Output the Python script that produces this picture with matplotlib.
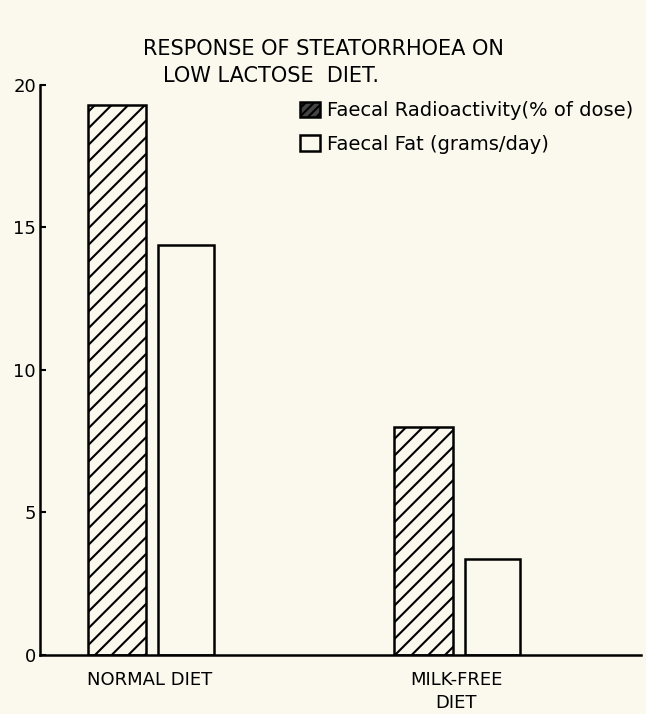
import matplotlib
matplotlib.use('Agg')
import matplotlib.pyplot as plt
from matplotlib.patches import Patch
import numpy as np

groups = ['NORMAL DIET', 'MILK-FREE\nDIET']
radioactivity = [19.3, 8.0]   # Faecal Radioactivity (% of dose)
fat = [14.4, 3.35]            # Faecal Fat (grams/day)
yticks = [0, 5, 10, 15, 20]

bg = '#fbf9ee'
plt.rcParams['hatch.linewidth'] = 1.5
plt.rcParams['font.family'] = 'DejaVu Sans'

fig = plt.figure(figsize=(6.46, 7.14), dpi=100, facecolor=bg)
ax = fig.add_axes([0.062, 0.083, 0.93, 0.798], facecolor=bg)

centers = np.array([1.83, 6.93])
ax.bar(centers - 0.55, radioactivity, width=0.98, color=bg, edgecolor='black',
       hatch='//', linewidth=1.8)
ax.bar(centers + 0.6, fat, width=0.92, color=bg, edgecolor='black',
       linewidth=1.8)

ax.set_xlim(0, 10)
ax.set_ylim(0, 20)
ax.set_yticks(yticks)
ax.set_xticks(centers)
ax.set_xticklabels(groups, fontsize=13, linespacing=1.35)
ax.tick_params(axis='x', length=0, pad=12)
ax.tick_params(axis='y', length=4, width=1.5, direction='in', labelsize=13, pad=3)
for s in ['top', 'right']:
    ax.spines[s].set_visible(False)
for s in ['left', 'bottom']:
    ax.spines[s].set_linewidth(1.8)

fig.text(0.5, 0.932, 'RESPONSE OF STEATORRHOEA ON', ha='center', va='center', fontsize=15)
fig.text(0.42, 0.893, 'LOW LACTOSE  DIET.', ha='center', va='center', fontsize=15)

handles = [Patch(facecolor='#444444', edgecolor='black', hatch='////', linewidth=1.8),
           Patch(facecolor=bg, edgecolor='black', linewidth=1.8)]
labels = ['Faecal Radioactivity(% of dose)', 'Faecal Fat (grams/day)']
ax.legend(handles, labels, loc='upper left', bbox_to_anchor=(0.42, 0.985), frameon=False,
          fontsize=14, handlelength=1.0, handleheight=0.85, handletextpad=0.4,
          labelspacing=0.75, borderaxespad=0)

fig.savefig('out.png', dpi=100, facecolor=bg)
